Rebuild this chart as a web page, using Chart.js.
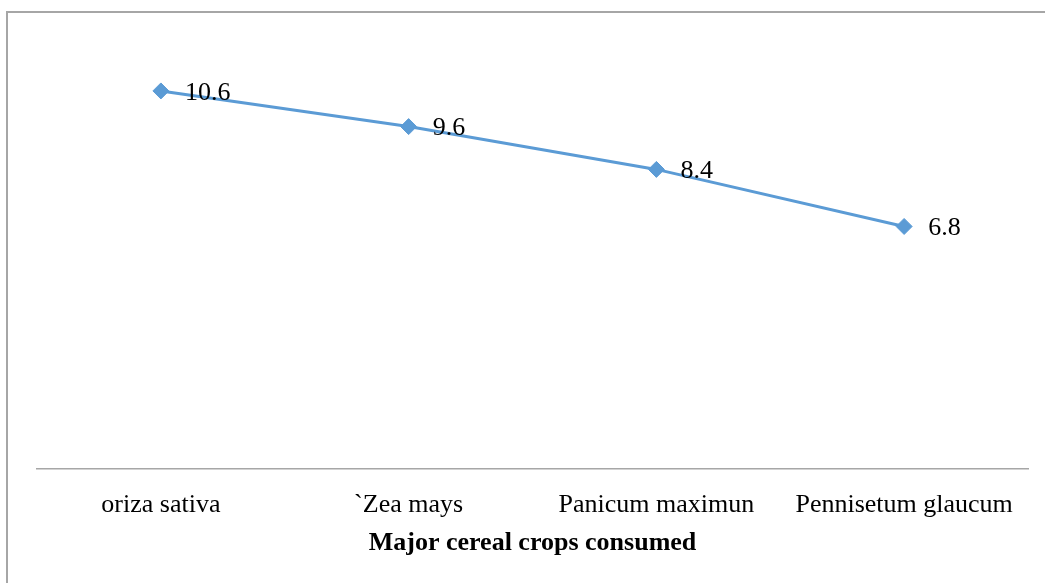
<!DOCTYPE html>
<html>
<head>
<meta charset="utf-8">
<script src="https://cdn.jsdelivr.net/npm/chart.js@4.4.0/dist/chart.umd.min.js"></script>
<style>
  html, body { margin: 0; padding: 0; background: #fff; overflow: hidden; }
  .frame {
    position: absolute; left: 6px; top: 11px; width: 1200px; height: 700px;
    border-left: 2px solid #a6a6a6; border-top: 2px solid #a6a6a6;
  }
  #cropChart { position: absolute; left: 0; top: 0; }
</style>
</head>
<body>
<div class="frame"></div>
<canvas id="cropChart" width="1045" height="583"></canvas>

<script>
// chart data
const crops = ['oriza sativa', '`Zea mays', 'Panicum maximun', 'Pennisetum glaucum'];
const consumed = [10.6, 9.6, 8.4, 6.8];
const axisTitle = 'Major cereal crops consumed';

const serif = "'Liberation Serif', 'Times New Roman', serif";

// draws the value to the right of each marker
const valueLabels = {
    id: 'valueLabels',
    afterDatasetsDraw(chart) {
        const ctx = chart.ctx;
        const meta = chart.getDatasetMeta(0);
        ctx.save();
        ctx.font = '26px ' + serif;
        ctx.fillStyle = '#000';
        ctx.textAlign = 'left';
        ctx.textBaseline = 'middle';
        meta.data.forEach((pt, i) => {
            ctx.fillText(consumed[i].toString(), pt.x + 24, pt.y + 2);
        });
        ctx.restore();
    }
};

const ctx = document.getElementById('cropChart').getContext('2d');
new Chart(ctx, {
    type: 'line',
    data: {
        labels: crops,
        datasets: [{
            label: 'Consumption',
            data: consumed,
            borderColor: '#5b9bd5',
            backgroundColor: '#5b9bd5',
            borderWidth: 3,
            tension: 0,
            pointStyle: 'rectRot',
            pointRadius: 8,
            pointHoverRadius: 8,
            pointBackgroundColor: '#5b9bd5',
            pointBorderColor: '#5b9bd5',
            pointBorderWidth: 1
        }]
    },
    options: {
        responsive: false,
        animation: false,
        layout: {
            padding: { left: 37, right: 17, top: 41, bottom: 0 }
        },
        scales: {
            y: {
                display: false,
                min: 0,
                max: 12
            },
            x: {
                offset: true,
                grid: { display: false, drawTicks: false },
                border: { display: true, color: '#a6a6a6', width: 1.5 },
                ticks: {
                    padding: 21,
                    color: '#000',
                    font: { family: serif, size: 26 },
                    maxRotation: 0,
                    autoSkip: false
                },
                title: {
                    display: true,
                    text: axisTitle,
                    color: '#000',
                    font: { family: serif, size: 26, weight: 'bold' },
                    padding: { top: 4, bottom: 24 }
                },
                afterFit(scale) {
                    scale.height = 114;
                }
            }
        },
        plugins: {
            legend: { display: false },
            tooltip: { enabled: false }
        }
    },
    plugins: [valueLabels]
});
</script>
</body>
</html>
